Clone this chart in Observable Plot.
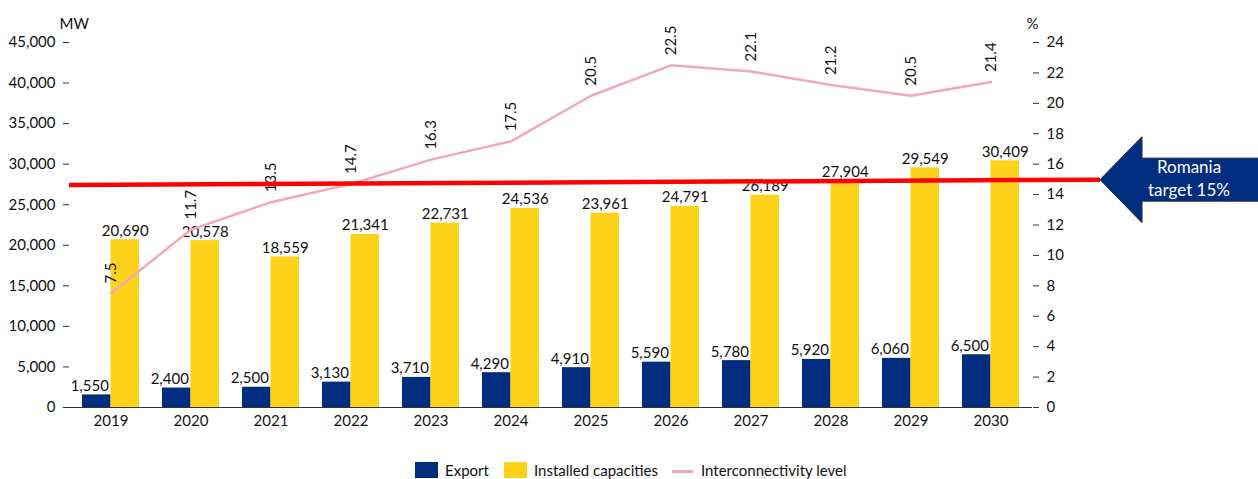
<!DOCTYPE html>
<html>
<head>
<meta charset="utf-8">
<script src="https://cdn.jsdelivr.net/npm/d3@7"></script>
<script src="https://cdn.jsdelivr.net/npm/@observablehq/plot@0.6"></script>
<style>
  html, body { margin: 0; padding: 0; background: #fff; }
  body { width: 1258px; height: 479px; overflow: hidden; font-family: Lato, "Open Sans", sans-serif; }
  #legend { position: relative; height: 31px; font-size: 15px; color: #111; }
  .sw { position: absolute; top: 14px; width: 23px; height: 16px; }
  .ln { position: absolute; top: 22px; width: 21px; height: 3px; }
  .lt { position: absolute; top: 12px; line-height: 20px; }
</style>
</head>
<body>
<div id="chart"></div>
<div id="legend">
  <div class="sw" style="left:415px;background:#002D80"></div><div class="lt" style="left:445px">Export</div>
  <div class="sw" style="left:504px;background:#FDD21B"></div><div class="lt" style="left:534px">Installed capacities</div>
  <div class="ln" style="left:672px;background:#F4A9B8"></div><div class="lt" style="left:701px">Interconnectivity level</div>
</div>
<script>
const years = ["2019","2020","2021","2022","2023","2024","2025","2026","2027","2028","2029","2030"];
const exportMW = [1550, 2400, 2500, 3130, 3710, 4290, 4910, 5590, 5780, 5920, 6060, 6500];
const installedMW = [20690, 20578, 18559, 21341, 22731, 24536, 23961, 24791, 26189, 27904, 29549, 30409];
const interconnPct = [7.5, 11.7, 13.5, 14.7, 16.3, 17.5, 20.5, 22.5, 22.1, 21.2, 20.5, 21.4];
const leftTicks = [0, 5000, 10000, 15000, 20000, 25000, 30000, 35000, 40000, 45000];
const rightTicks = [0, 2, 4, 6, 8, 10, 12, 14, 16, 18, 20, 22, 24];
const targetPct = [14.6, 14.95]; // hand-drawn target line: left end, right end
const arrowText = ["Romania", "target 15%"];

const W = 1258, H = 448;
const mL = 69, mR = 226, mT = 42, mB = 41;
const pad = 0.29;
const step = (W - mL - mR) / years.length;
const bw = step * (1 - pad);
const k = 45000 / 24; // percent -> MW mapping for right axis

const exportData = years.map((y, i) => ({year: y, value: exportMW[i]}));
const instData = years.map((y, i) => ({year: y, value: installedMW[i]}));
const lineData = years.map((y, i) => ({year: y, pct: interconnPct[i], v: interconnPct[i] * k}));
const fmt = d3.format(",");

const plot = Plot.plot({
  width: W, height: H,
  marginLeft: mL, marginRight: mR, marginTop: mT, marginBottom: mB,
  style: {fontFamily: "Lato, 'Open Sans', sans-serif", fontSize: "15px", color: "#111", background: "#fff"},
  x: {domain: years, type: "band", paddingInner: pad, paddingOuter: pad / 2, label: null},
  y: {domain: [0, 45000], label: null},
  marks: [
    Plot.barY(exportData, {x: "year", y: "value", fill: "#002D80", insetRight: bw / 2}),
    Plot.barY(instData, {x: "year", y: "value", fill: "#FDD21B", insetLeft: bw / 2}),
    Plot.text(exportData, {x: "year", y: "value", text: d => fmt(d.value), dx: -bw / 4 - 7, dy: -4, lineAnchor: "bottom", fill: "#111"}),
    Plot.text(instData, {x: "year", y: "value", text: d => fmt(d.value), dx: bw / 4, dy: -4, lineAnchor: "bottom", fill: "#111"}),
    Plot.line(lineData, {x: "year", y: "v", stroke: "#F4A9B8", strokeWidth: 2.5}),
    Plot.text(lineData, {x: "year", y: "v", text: d => d.pct.toFixed(1), rotate: -90, textAnchor: "start", lineAnchor: "middle", dy: -10, fill: "#111"}),
    Plot.axisY(leftTicks, {anchor: "left", tickFormat: fmt, tickSize: 6, tickPadding: 8, stroke: "#333", label: null}),
    Plot.ruleX([0], {frameAnchor: "left", stroke: "#333"}),
    Plot.axisY(rightTicks.map(d => d * k), {anchor: "right", tickFormat: d => Math.round(d / k), tickSize: 6, tickPadding: 8, stroke: "#333", label: null}),
    Plot.axisX({tickSize: 0, tickPadding: 8, label: null}),
    Plot.ruleY([0], {stroke: "#333"}),
    Plot.text(["MW"], {frameAnchor: "top-left", dx: -10, dy: -24, fill: "#111"}),
    Plot.text(["%"], {frameAnchor: "top-right", dx: 6, dy: -24, fill: "#111"})
  ]
});
document.getElementById("chart").appendChild(plot);

// Annotation: target line and arrow, positioned with the plot's scales
const ySc = plot.scale("y");
const yPx = d3.scaleLinear().domain(ySc.domain).range(ySc.range);
const svg = d3.select(plot);
const tipX = W - mR + 68;
const y0 = yPx(targetPct[0] * k), y1 = yPx(targetPct[1] * k);
const g = svg.append("g");
g.append("line").attr("x1", mL).attr("y1", y0).attr("x2", tipX).attr("y2", y1)
  .attr("stroke", "#FF0000").attr("stroke-width", 4.5);
const headX = tipX + 42, headHalf = 43, shaftHalf = 21.5;
g.append("path")
  .attr("d", `M${tipX},${y1} L${headX},${y1 - headHalf} L${headX},${y1 - shaftHalf} L${W + 5},${y1 - shaftHalf} L${W + 5},${y1 + shaftHalf} L${headX},${y1 + shaftHalf} L${headX},${y1 + headHalf} Z`)
  .attr("fill", "#002D80").attr("stroke", "#1B2A4A").attr("stroke-width", 1);
arrowText.forEach((t, i) => {
  g.append("text").attr("x", 1189).attr("y", y1 - 11 + i * 23).attr("text-anchor", "middle")
    .attr("dominant-baseline", "middle").attr("fill", "#fff")
    .style("font-size", "17px").style("font-family", "Lato, 'Open Sans', sans-serif").text(t);
});
</script>
</body>
</html>
